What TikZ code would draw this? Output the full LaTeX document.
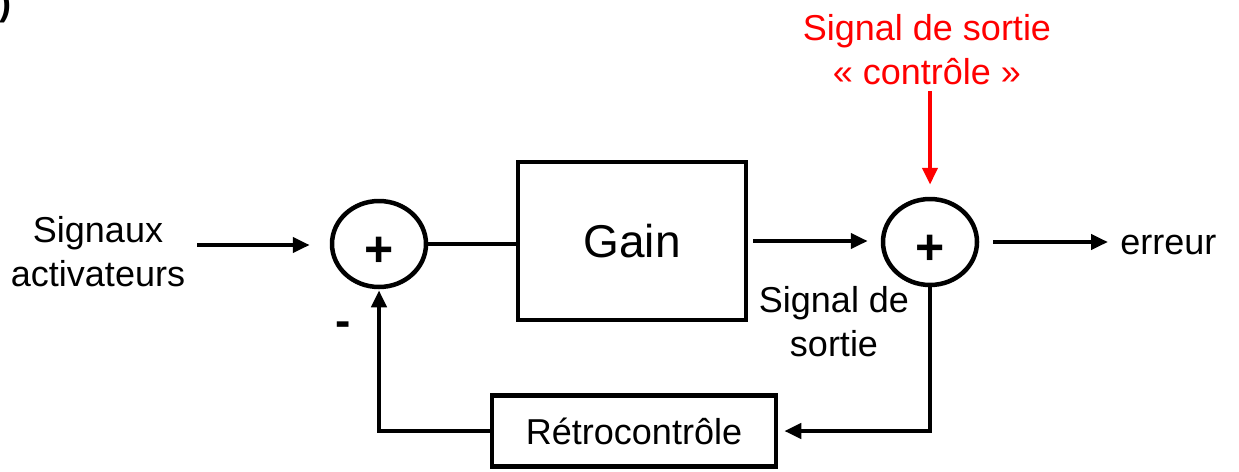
\documentclass[tikz,border=0pt]{standalone}
\usepackage{fontspec}
\setmainfont{Liberation Sans}
\usetikzlibrary{arrows.meta,shapes.geometric}

\begin{document}
\begin{tikzpicture}[x=1pt,y=-1pt,>={Triangle[length=17pt,width=15pt]},line width=4.5pt,
  sum node/.style={ellipse,draw,minimum width=94pt,minimum height=86pt,inner sep=0pt,
    label={[font=\fontsize{50}{56}\selectfont\bfseries,yshift=-8pt]center:+}},
  gain node/.style={rectangle,draw,minimum width=228pt,minimum height=158pt,font=\fontsize{46}{52}\selectfont},
  retro node/.style={rectangle,draw,minimum width=284pt,minimum height=71pt,inner sep=0pt,font=\fontsize{36}{42}\selectfont},
  text node/.style={align=center,inner sep=0pt,font=\fontsize{36}{44}\selectfont}]

  \useasboundingbox (0,0) rectangle (1239,471);

  \node[text node,font=\fontsize{36}{42}\selectfont\bfseries,anchor=base east] (par) at (14,15) {)};

  \node[sum node] (s1) at (379,244) {};
  \node[gain node] (gain) at (632,241) {Gain};
  \node[sum node] (s2) at (930,242) {};
  \node[retro node] (retro) at (634,431) {Rétrocontrôle};

  \node[text node] (in) at (98,252) {Signaux\\activateurs};
  \node[text node,anchor=west] (err) at (1118,245) {erreur};
  \node[text node] (out) at (834,322) {Signal de\\sortie};
  \node[text node,text=red] (ctrl) at (927,50) {Signal de sortie\\« contrôle »};
  \node[text node,font=\fontsize{46}{50}\selectfont\bfseries] (minus) at (343,329) {-};

  \coordinate (inA) at (197,245);

  % chaine directe
  \draw[->,shorten >=20pt] (inA) -- (inA -| s1.west);
  \draw (s1.east) -- (s1.east -| gain.west);
  \draw[->,shorten <=5pt,shorten >=13pt] (gain.east) -- (gain.east -| s2.west);
  \draw[->,shorten <=14pt,shorten >=10pt] (s2.east) -- (s2.east -| err.west);

  % retroaction
  \draw[->,shorten >=6pt] (s2.south) |- (retro.east);
  \draw[->,shorten >=1pt] (retro.west) -| (s1.south);

  \draw[->,red,shorten <=4pt,shorten >=12pt] (ctrl.south -| s2.north) -- (s2.north);
\end{tikzpicture}
\end{document}
